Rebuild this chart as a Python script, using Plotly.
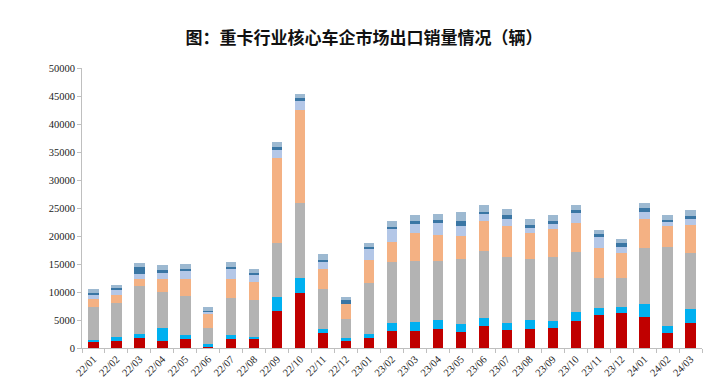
import plotly.graph_objects as go

categories = ["22/01","22/02","22/03","22/04","22/05","22/06","22/07","22/08","22/09","22/10","22/11","22/12",
              "23/01","23/02","23/03","23/04","23/05","23/06","23/07","23/08","23/09","23/10","23/11","23/12",
              "24/01","24/02","24/03"]

s_red = [1130,1250,1850,1250,1610,120,1610,1550,6610,9880,2740,1310,
         1850,3040,2980,3450,2860,3990,3270,3330,3630,4820,5890,6250,5540,2740,4400]
s_cyan = [300,710,590,2380,710,650,710,410,2560,2680,710,420,
          710,1360,1600,1490,1490,1430,1250,1610,1250,1670,1250,1130,2380,1250,2500]
s_gray = [5950,6020,8630,6430,6970,2860,6610,6550,9640,13390,7090,3390,
          9110,11020,11010,10650,11480,11960,11790,10950,11430,10710,5420,5060,10000,14040,10000]
s_salmon = [1310,1420,1190,2200,3090,2560,3450,3220,15120,16610,3570,2680,
            4040,3510,5000,4590,4230,5240,5530,4640,5000,5060,5360,4460,5060,3700,5060]
s_lav = [890,1080,950,1070,1430,240,1790,1420,1430,1600,1310,0,
         1910,2260,1550,2200,1780,1310,1250,1020,830,1910,1840,1080,1360,710,1070]
s_dark = [240,230,1310,600,300,180,350,300,530,420,290,770,
          360,420,590,480,780,360,660,350,480,470,540,710,600,420,540]
s_cap = [660,600,720,830,830,650,900,660,890,840,1020,600,
         830,1010,960,1070,1610,1310,1070,1080,1130,840,770,710,890,890,1070]

series = [s_red, s_cyan, s_gray, s_salmon, s_lav, s_dark, s_cap]
colors = ["#C00000", "#00B0F0", "#B3B3B3", "#F4B183", "#B4C7E7", "#3A76A4", "#9DB9D1"]

fig = go.Figure()
for vals, col in zip(series, colors):
    fig.add_trace(go.Bar(x=categories, y=vals, marker=dict(color=col, line=dict(width=0)),
                         hoverinfo="skip"))

# page body has an 8px margin, so the figure is sized/offset to compensate
fig.update_layout(
    barmode="stack",
    bargap=0.55,
    width=720, height=383,
    margin=dict(l=74, r=26, t=60, b=43),
    paper_bgcolor="white", plot_bgcolor="white",
    showlegend=False,
    title=dict(text="<b>图：重卡行业核心车企市场出口销量情况（辆）</b>",
               x=(364 - 8) / 720, xanchor="center",
               yref="container", y=1 - 30 / 383, yanchor="middle",
               font=dict(family="Noto Sans CJK SC", size=17, color="#111111")),
    font=dict(family="Liberation Serif", size=10, color="#222222"),
)
fig.update_yaxes(range=[0, 50000], dtick=5000, tickformat="d", showgrid=False, zeroline=False,
                 showline=True, linecolor="#BFBFBF", linewidth=1,
                 ticks="outside", ticklen=4, tickcolor="#BFBFBF",
                 tickfont=dict(family="Liberation Serif", size=10.5, color="#222222"),
                 automargin=False)
fig.update_xaxes(showgrid=False, showline=True, linecolor="#BFBFBF", linewidth=1,
                 ticks="outside", ticklen=4, tickcolor="#BFBFBF", tickson="boundaries",
                 tickangle=-45,
                 tickfont=dict(family="Liberation Serif", size=10.5, color="#222222"),
                 automargin=False)

fig.write_html("out.html")
